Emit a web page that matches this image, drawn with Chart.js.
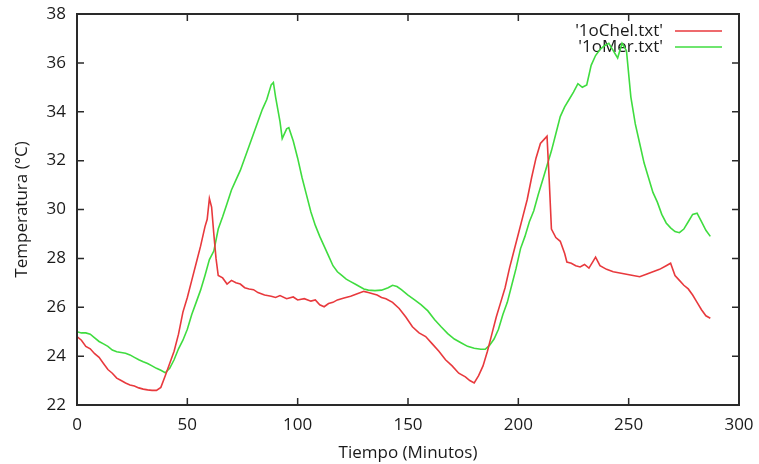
<!DOCTYPE html>
<html>
<head>
<meta charset="utf-8">
<script src="https://cdn.jsdelivr.net/npm/chart.js@4/dist/chart.umd.min.js"></script>
<style>
  html, body { margin: 0; padding: 0; background: #fff; }
  #wrap { width: 759px; height: 464px; }
</style>
</head>
<body>
<div id="wrap"><canvas id="chart"></canvas></div>
<script>
// '1oChel.txt'
const chelMinutes = [0, 2, 4, 6, 8, 10, 12, 14, 16, 18, 20, 22, 24, 26, 28, 30, 32, 34, 36, 38,
  40, 42, 44, 46, 48, 50, 52, 54, 56, 58, 59, 60, 61, 62, 63, 64, 66, 68, 70, 72,
  74, 76, 78, 80, 82, 85, 88, 90, 92, 95, 98, 100, 103, 106, 108, 110, 112, 114, 116, 118,
  121, 124, 127, 130, 132, 134, 136, 138, 140, 143, 146, 149, 152, 155, 158, 161, 164, 167, 170, 173,
  176, 178, 180, 182, 184, 186, 188, 190, 192, 194, 196, 198, 200, 202, 204, 206, 208, 210, 212, 213,
  214, 215, 217, 219, 221, 222, 224, 226, 228, 230, 232, 234, 235, 237, 240, 243, 246, 249, 252, 255,
  258, 261, 264, 267, 269, 271, 273, 275, 277, 279, 281, 283, 285, 287];
const chelTemps = [24.8, 24.65, 24.4, 24.3, 24.1, 23.95, 23.7, 23.45, 23.3, 23.1, 23.0, 22.9, 22.82, 22.78, 22.7, 22.65, 22.62, 22.6, 22.6, 22.72,
  23.2, 23.7, 24.2, 24.9, 25.8, 26.4, 27.1, 27.8, 28.5, 29.3, 29.6, 30.45, 30.1, 29.0, 28.0, 27.3, 27.2, 26.95, 27.1, 27.0,
  26.95, 26.8, 26.75, 26.72, 26.6, 26.5, 26.45, 26.4, 26.48, 26.35, 26.42, 26.3, 26.35, 26.25, 26.3, 26.1, 26.02, 26.15, 26.2, 26.3,
  26.38, 26.45, 26.55, 26.65, 26.6, 26.55, 26.5, 26.4, 26.35, 26.2, 25.95, 25.6, 25.2, 24.95, 24.8, 24.5, 24.2, 23.85, 23.6, 23.3,
  23.15, 23.0, 22.9, 23.2, 23.6, 24.2, 24.9, 25.6, 26.2, 26.8, 27.6, 28.3, 29.0, 29.7, 30.4, 31.3, 32.1, 32.7, 32.9, 33.0,
  31.2, 29.2, 28.85, 28.7, 28.2, 27.85, 27.8, 27.7, 27.65, 27.75, 27.6, 27.9, 28.05, 27.7, 27.55, 27.45, 27.4, 27.35, 27.3, 27.25,
  27.35, 27.45, 27.55, 27.7, 27.8, 27.3, 27.1, 26.9, 26.75, 26.5, 26.2, 25.9, 25.65, 25.55];

// '1oMer.txt'
const merMinutes = [0, 2, 4, 6, 8, 10, 12, 14, 16, 18, 20, 22, 24, 26, 28, 30, 32, 34, 36, 38,
  40, 42, 44, 46, 48, 50, 52, 54, 56, 58, 60, 62, 64, 66, 68, 70, 72, 74, 76, 78,
  80, 82, 84, 86, 88, 89, 90, 92, 93, 95, 96, 98, 100, 102, 104, 106, 108, 110, 112, 114,
  116, 118, 120, 122, 124, 126, 128, 130, 132, 135, 138, 141, 143, 145, 147, 150, 153, 156, 159, 162,
  165, 168, 171, 174, 177, 180, 183, 185, 187, 189, 191, 193, 195, 197, 199, 201, 203, 205, 207, 209,
  211, 213, 215, 217, 219, 221, 223, 225, 227, 229, 231, 233, 235, 237, 239, 241, 243, 245, 247, 249,
  251, 253, 255, 257, 259, 261, 263, 265, 267, 269, 271, 273, 275, 277, 279, 281, 283, 285, 287];
const merTemps = [25.0, 24.95, 24.95, 24.9, 24.75, 24.6, 24.5, 24.4, 24.25, 24.18, 24.15, 24.12, 24.05, 23.95, 23.85, 23.77, 23.7, 23.6, 23.5, 23.42,
  23.32, 23.5, 23.85, 24.3, 24.65, 25.1, 25.7, 26.2, 26.7, 27.3, 27.95, 28.3, 29.2, 29.7, 30.25, 30.8, 31.2, 31.6, 32.1, 32.6,
  33.1, 33.6, 34.1, 34.5, 35.1, 35.2, 34.6, 33.6, 32.9, 33.3, 33.35, 32.8, 32.1, 31.3, 30.6, 29.9, 29.35, 28.9, 28.5, 28.1,
  27.7, 27.45, 27.3, 27.15, 27.05, 26.95, 26.85, 26.75, 26.7, 26.68, 26.7, 26.8, 26.9, 26.85, 26.72, 26.5, 26.3, 26.1, 25.85, 25.5,
  25.2, 24.92, 24.7, 24.55, 24.4, 24.32, 24.28, 24.28, 24.45, 24.7, 25.1, 25.7, 26.2, 26.9, 27.6, 28.4, 28.9, 29.5, 29.95, 30.6,
  31.2, 31.8, 32.4, 33.1, 33.8, 34.2, 34.5, 34.8, 35.15, 35.0, 35.1, 35.9, 36.3, 36.55, 36.7, 36.8, 36.5, 36.2, 36.8, 36.5,
  34.6, 33.5, 32.7, 31.9, 31.3, 30.7, 30.3, 29.8, 29.45, 29.25, 29.1, 29.05, 29.2, 29.5, 29.8, 29.85, 29.5, 29.15, 28.9];

const xTicks = [0, 50, 100, 150, 200, 250, 300];
const yTicks = [22, 24, 26, 28, 30, 32, 34, 36, 38];

const textColor = '#1a1a1a';
const font = { family: 'Open Sans', size: 17 };

function toPoints(xs, ys) {
  return xs.map((x, i) => ({ x: x, y: ys[i] }));
}

// keep the plot box where the layout padding puts it
function noLabelPadding(s) {
  s.paddingTop = 0;
  s.paddingBottom = 0;
  s.paddingLeft = 0;
  s.paddingRight = 0;
}

// gnuplot-style key in the top right corner
const keyPlugin = {
  id: 'keyPlugin',
  beforeDatasetsDraw(chart) {
    const ctx = chart.ctx;
    ctx.save();
    ctx.font = '17px "Open Sans"';
    ctx.textAlign = 'right';
    ctx.textBaseline = 'middle';
    chart.data.datasets.forEach((ds, i) => {
      const y = 31 + i * 16;
      ctx.fillStyle = textColor;
      ctx.fillText(ds.label, 663, y);
      ctx.strokeStyle = ds.borderColor;
      ctx.lineWidth = 1.6;
      ctx.beginPath();
      ctx.moveTo(675, y);
      ctx.lineTo(722, y);
      ctx.stroke();
    });
    ctx.restore();
  }
};

// border with inward ticks on all four sides
const framePlugin = {
  id: 'framePlugin',
  afterDraw(chart) {
    const { ctx, chartArea: a, scales } = chart;
    const len = 7;
    ctx.save();
    ctx.strokeStyle = '#2a2a2a';
    ctx.lineWidth = 1.5;
    ctx.beginPath();
    xTicks.forEach(v => {
      const px = scales.x.getPixelForValue(v);
      ctx.moveTo(px, a.bottom); ctx.lineTo(px, a.bottom - len);
      ctx.moveTo(px, a.top); ctx.lineTo(px, a.top + len);
    });
    yTicks.forEach(v => {
      const py = scales.y.getPixelForValue(v);
      ctx.moveTo(a.left, py); ctx.lineTo(a.left + len, py);
      ctx.moveTo(a.right, py); ctx.lineTo(a.right - len, py);
    });
    ctx.stroke();
    ctx.lineWidth = 2;
    ctx.strokeRect(a.left, a.top, a.right - a.left, a.bottom - a.top);
    ctx.restore();
  }
};

new Chart(document.getElementById('chart'), {
  type: 'line',
  data: {
    datasets: [{
      label: "'1oChel.txt'",
      data: toPoints(chelMinutes, chelTemps),
      borderColor: '#e8393d',
      borderWidth: 1.6,
      pointRadius: 0,
      tension: 0,
      fill: false
    }, {
      label: "'1oMer.txt'",
      data: toPoints(merMinutes, merTemps),
      borderColor: '#3fdc3f',
      borderWidth: 1.6,
      pointRadius: 0,
      tension: 0,
      fill: false
    }]
  },
  options: {
    responsive: true,
    maintainAspectRatio: false,
    animation: false,
    devicePixelRatio: 1,
    layout: { padding: { left: 0, right: 20, top: 14, bottom: 0 } },
    plugins: {
      legend: { display: false },
      tooltip: { enabled: false }
    },
    scales: {
      x: {
        type: 'linear',
        min: 0,
        max: 300,
        afterBuildTicks: s => { s.ticks = xTicks.map(v => ({ value: v })); },
        afterFit: s => { s.height = 59; noLabelPadding(s); },
        ticks: { color: textColor, font: font, padding: 10, maxRotation: 0 },
        grid: { display: false, drawTicks: false },
        border: { display: false },
        title: {
          display: true,
          text: 'Tiempo (Minutos)',
          color: textColor,
          font: font,
          padding: { top: 0, bottom: 1 }
        }
      },
      y: {
        type: 'linear',
        min: 22,
        max: 38,
        afterBuildTicks: s => { s.ticks = yTicks.map(v => ({ value: v })); },
        afterFit: s => { s.width = 77; noLabelPadding(s); },
        ticks: { color: textColor, font: font, padding: 11 },
        grid: { display: false, drawTicks: false },
        border: { display: false },
        title: {
          display: true,
          text: 'Temperatura (°C)',
          color: textColor,
          font: font,
          padding: { top: 12, bottom: 0 }
        }
      }
    }
  },
  plugins: [keyPlugin, framePlugin]
});
</script>
</body>
</html>
